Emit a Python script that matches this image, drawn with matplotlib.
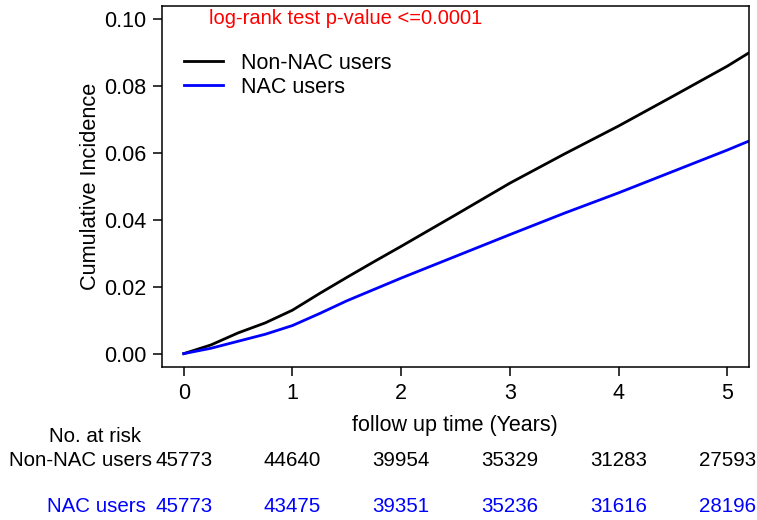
import matplotlib
matplotlib.use("Agg")
import matplotlib.pyplot as plt

# data
years = [0, 0.25, 0.5, 0.75, 1, 1.25, 1.5, 1.75, 2, 2.5, 3, 3.5, 4, 4.5, 5, 5.2]
non_nac = [0, 0.0026, 0.0062, 0.0092, 0.0130, 0.0180, 0.0228, 0.0275, 0.0321,
           0.0415, 0.0510, 0.0597, 0.0681, 0.0770, 0.0860, 0.0900]
nac = [0, 0.0016, 0.0037, 0.0058, 0.0084, 0.0120, 0.0158, 0.0192, 0.0226,
       0.0291, 0.0356, 0.0420, 0.0481, 0.0545, 0.0609, 0.0636]
risk_times = [0, 1, 2, 3, 4, 5]
risk_non_nac = [45773, 44640, 39954, 35329, 31283, 27593]
risk_nac = [45773, 43475, 39351, 35236, 31616, 28196]
yticks = [0.00, 0.02, 0.04, 0.06, 0.08, 0.10]

plt.rcParams['font.family'] = ['Liberation Sans', 'DejaVu Sans']

W, H = 757, 520
fig = plt.figure(figsize=(W / 100, H / 100), dpi=100)
ax = fig.add_axes([162 / W, 1 - 367 / H, (749 - 162) / W, (367 - 6) / H])

ax.plot(years, non_nac, color='black', lw=2.0, label='Non-NAC users')
ax.plot(years, nac, color='#0000ff', lw=2.0, label='NAC users')
ax.set_xlim(-0.2, 5.2)
ax.set_ylim(-0.004, 0.104)
ax.set_xticks(risk_times)
ax.set_yticks(yticks)
ax.set_yticklabels([f"{v:.2f}" for v in yticks])
ax.tick_params(direction='out', length=6.5, width=1.1, labelsize=15.5, pad=5)
for s in ax.spines.values():
    s.set_linewidth(1.1)
ax.set_ylabel('Cumulative Incidence', fontsize=15.7, labelpad=2)

ax.legend(loc='upper left', bbox_to_anchor=(0.0, 0.93), frameon=False, fontsize=15.5,
          handlelength=1.85, handletextpad=0.8, labelspacing=0.15, borderaxespad=0.6)

def fx(px):
    return px / W

def fy(py):
    return 1 - py / H

fig.text(fx(209), fy(19), 'log-rank test p-value <=0.0001', color='red', fontsize=14.5,
         va='center', ha='left')

fig.text(fx(455), fy(426), 'follow up time (Years)', ha='center', va='center', fontsize=15.5)
fig.text(fx(95), fy(437), 'No. at risk', ha='center', va='center', fontsize=14.8)
fig.text(fx(152), fy(461), 'Non-NAC users', ha='right', va='center', fontsize=14.8)
fig.text(fx(146), fy(506), 'NAC users', ha='right', va='center', fontsize=14.8, color='#0000ff')

for t, a, b in zip(risk_times, risk_non_nac, risk_nac):
    xd = ax.transData.transform((t, 0))[0]
    xf = fig.transFigure.inverted().transform((xd, 0))[0]
    fig.text(xf, fy(461), str(a), ha='center', va='center', fontsize=14.8)
    fig.text(xf, fy(506), str(b), ha='center', va='center', fontsize=14.8, color='#0000ff')

fig.savefig('out.png', dpi=100)
